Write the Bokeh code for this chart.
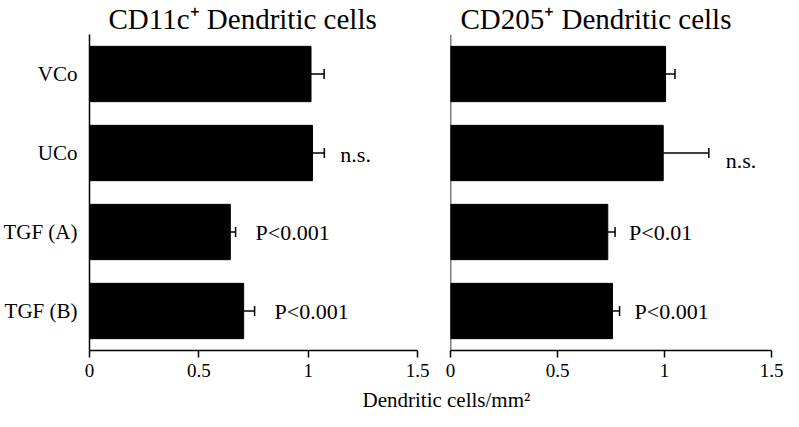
from bokeh.plotting import figure
from bokeh.models import (ColumnDataSource, FactorRange, Range1d, FixedTicker,
                          Whisker, TeeHead, Span, Title)
from bokeh.layouts import row, column
from bokeh.embed import file_html
from bokeh.resources import INLINE
from bokeh.core.properties import value

# ---- data ----
categories = ["VCo", "UCo", "TGF (A)", "TGF (B)"]
cd11c_mean = [1.013, 1.02, 0.644, 0.705]
cd11c_err = [0.06, 0.054, 0.024, 0.05]
cd11c_note = ["", "n.s.", "P<0.001", "P<0.001"]
cd205_mean = [1.005, 0.994, 0.735, 0.757]
cd205_err = [0.044, 0.213, 0.034, 0.033]
cd205_note = ["", "n.s.", "P<0.01", "P<0.001"]
x_ticks = [0, 0.5, 1, 1.5]
x_tick_labels = ["0", "0.5", "1", "1.5"]
title_left = "CD11c\u207a Dendritic cells"
title_right = "CD205\u207a Dendritic cells"
x_axis_label = "Dendritic cells/mm\u00b2"

FONT = "Liberation Serif"
W = 783
PANEL_H = 386
LABEL_H = 25


def panel(means, errs, notes, gaps, dys, width, border_left, border_right,
          show_labels, title_text, title_offset):
    upper = [m + e for m, e in zip(means, errs)]
    src = ColumnDataSource(dict(cat=categories, mean=means, upper=upper))
    keep = [i for i, n in enumerate(notes) if n]
    note_src = ColumnDataSource(dict(
        cat=[categories[i] for i in keep],
        upper=[upper[i] for i in keep],
        note=[notes[i] for i in keep],
        gap=[gaps[i] for i in keep],
        dy=[dys[i] for i in keep],
    ))
    p = figure(width=width, height=PANEL_H, title=None,
               y_range=FactorRange(*reversed(categories)),
               x_range=Range1d(0, 1.5),
               output_backend="svg", toolbar_location=None,
               min_border_left=border_left, min_border_right=border_right,
               min_border_top=0, min_border_bottom=36)
    p.add_layout(Title(text=title_text, align="left", offset=title_offset,
                       text_font=FONT, text_font_size="29px",
                       text_font_style="normal", text_color="black",
                       standoff=0), "above")
    p.outline_line_color = None
    p.grid.visible = False

    p.hbar(y="cat", left=0, right="mean", height=0.7, source=src,
           fill_color="black", line_color="black")
    p.add_layout(Whisker(base="cat", lower="mean", upper="upper", source=src,
                         dimension="width", line_color="black", line_width=1.5,
                         lower_head=None,
                         upper_head=TeeHead(size=10, line_width=1.5,
                                            line_color="black")))
    p.text(x="upper", y="cat", text="note", x_offset="gap", y_offset="dy",
           source=note_src, text_font=value(FONT), text_font_size="22px",
           text_baseline="middle", text_align="left", text_color="black")

    xa = p.xaxis[0]
    xa.ticker = FixedTicker(ticks=x_ticks)
    xa.major_label_overrides = {t: l for t, l in zip(x_ticks, x_tick_labels)}
    xa.major_label_text_font = FONT
    xa.major_label_text_font_size = "19px"
    xa.major_label_text_color = "black"
    xa.major_label_standoff = 6
    xa.major_tick_out = 7
    xa.major_tick_in = 0
    xa.minor_tick_line_color = None
    xa.axis_line_width = 1.5
    xa.major_tick_line_width = 1.5
    xa.axis_line_color = "black"
    xa.major_tick_line_color = "black"

    if show_labels:
        ya = p.yaxis[0]
        ya.major_tick_line_color = None
        ya.minor_tick_line_color = None
        ya.axis_line_width = 1.5
        ya.axis_line_color = "black"
        ya.major_tick_out = 0
        ya.major_tick_in = 0
        ya.major_label_text_font = FONT
        ya.major_label_text_font_size = "21px"
        ya.major_label_text_color = "black"
        ya.major_label_standoff = 12
    else:
        p.yaxis.visible = False
        p.add_layout(Span(location=0, dimension="height", line_color="black",
                          line_width=1.5))
    return p


p1 = panel(cd11c_mean, cd11c_err, cd11c_note, [0, 16, 20, 20], [0, 1, 0, 0],
           429, 88, 12, True, title_left, 19)
p2 = panel(cd205_mean, cd205_err, cd205_note, [0, 17, 14, 15], [0, 7, 0, 0],
           354, 21, 12, False, title_right, 10)

# shared x-axis label underneath both panels
p3 = figure(width=W, height=LABEL_H, title=None, x_range=Range1d(0, 1),
            y_range=Range1d(0, 1), output_backend="svg",
            toolbar_location=None, min_border=0)
p3.axis.visible = False
p3.grid.visible = False
p3.outline_line_color = None
p3.add_layout(Title(text=x_axis_label, align="left", offset=362,
                    text_font=FONT, text_font_size="21px",
                    text_font_style="normal", text_color="black",
                    standoff=0), "above")

layout = column(row(p1, p2), p3)
open("out.html", "w").write(file_html(layout, INLINE))
